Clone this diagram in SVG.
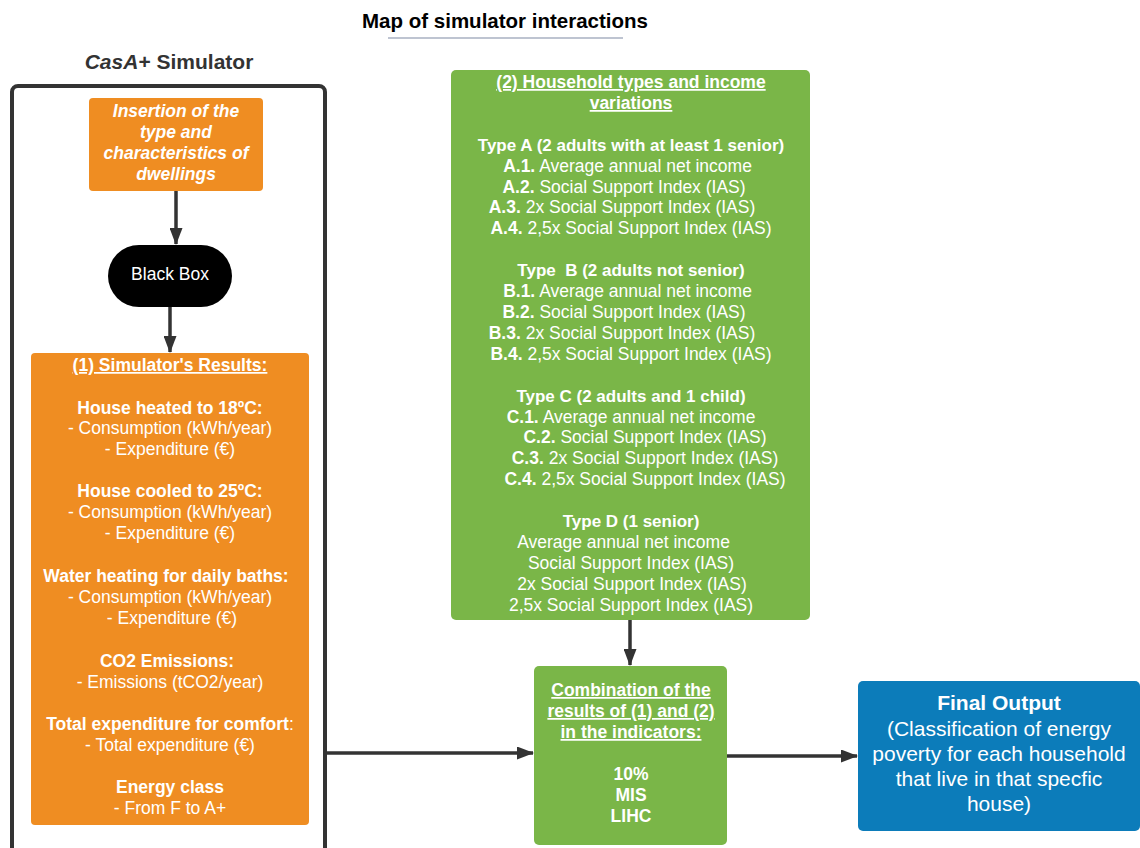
<svg xmlns="http://www.w3.org/2000/svg" width="1140" height="848" viewBox="0 0 1140 848">
<defs>
<marker id="ah" markerWidth="17" markerHeight="13" refX="16" refY="6.5" orient="auto" markerUnits="userSpaceOnUse" viewBox="0 0 17 13">
<path d="M0,0 L17,6.5 L0,13 Z" fill="#333"/>
</marker>
<style>
text{font-family:"Liberation Sans",Arial,sans-serif;fill:#fff;font-size:17.5px;text-anchor:middle}
.b{font-weight:bold}
.u{text-decoration:underline}
.big{font-size:21px}
.conn{stroke:#333;stroke-width:3.5;fill:none}
</style>
</defs>
<rect width="1140" height="848" fill="#fff"/>
<text x="505" y="28" class="b" style="fill:#000;font-size:20.5px">Map of simulator interactions</text>
<line x1="388" y1="38" x2="623" y2="38" stroke="#a9b0c2" stroke-width="1.5"/>
<text x="169" y="69" class="b" style="fill:#333;font-size:21px"><tspan font-style="italic">CasA</tspan>+ Simulator</text>

<g id="frame">
<rect x="12" y="86" width="313" height="800" rx="6" fill="none" stroke="#333" stroke-width="4"/>
</g>

<g id="connectors">
<line class="conn" x1="176" y1="191" x2="176" y2="244" marker-end="url(#ah)"/>
<line class="conn" x1="170" y1="307" x2="170" y2="352" marker-end="url(#ah)"/>
<line class="conn" x1="327" y1="753" x2="533" y2="753" marker-end="url(#ah)"/>
<line class="conn" x1="630" y1="620" x2="630" y2="665" marker-end="url(#ah)"/>
<line class="conn" x1="727" y1="756" x2="857" y2="756" marker-end="url(#ah)"/>
</g>

<g id="insertion">
<rect x="89" y="98" width="174" height="93" rx="4" fill="#EF8D22"/>
<text x="176" y="117" class="b" font-style="italic">Insertion of the</text>
<text x="176" y="138" class="b" font-style="italic">type and</text>
<text x="176" y="159" class="b" font-style="italic">characteristics of</text>
<text x="176" y="180" class="b" font-style="italic">dwellings</text>
</g>

<g id="blackbox">
<rect x="108" y="245" width="124" height="62" rx="31" fill="#000"/>
<text x="170" y="280">Black Box</text>
</g>

<g id="results">
<rect x="31" y="353" width="278" height="472" rx="4" fill="#EF8D22"/>
<text x="170" y="371" class="b u">(1) Simulator's Results:</text>
<text x="170" y="414" class="b">House heated to 18ºC:</text>
<text x="170" y="434">- Consumption (kWh/year)</text>
<text x="170" y="455">- Expenditure (€)</text>
<text x="170" y="497" class="b">House cooled to 25ºC:</text>
<text x="170" y="518">- Consumption (kWh/year)</text>
<text x="170" y="539">- Expenditure (€)</text>
<text x="166" y="582" class="b">Water heating for daily baths:</text>
<text x="170" y="603">- Consumption (kWh/year)</text>
<text x="172" y="624">- Expenditure (€)</text>
<text x="167" y="667" class="b">CO2 Emissions:</text>
<text x="170" y="688">- Emissions (tCO2/year)</text>
<text x="170" y="730"><tspan class="b">Total expenditure for comfort</tspan>:</text>
<text x="170" y="751">- Total expenditure (€)</text>
<text x="170" y="793" class="b">Energy class</text>
<text x="170" y="814">- From F to A+</text>
</g>

<g id="households">
<rect x="451" y="70" width="359" height="550" rx="5" fill="#7AB648"/>
<text x="631" y="88" class="b u">(2) Household types and income</text>
<text x="631" y="109" class="b u">variations</text>
<text x="631" y="151" class="b" style="font-size:17px">Type A (2 adults with at least 1 senior)</text>
<text x="627.5" y="172"><tspan class="b">A.1.</tspan> Average annual net income</text>
<text x="624" y="193"><tspan class="b">A.2.</tspan> Social Support Index (IAS)</text>
<text x="622" y="213"><tspan class="b">A.3.</tspan> 2x Social Support Index (IAS)</text>
<text x="631" y="234"><tspan class="b">A.4.</tspan> 2,5x Social Support Index (IAS)</text>
<text x="631" y="276" class="b" style="font-size:17px" xml:space="preserve">Type  B (2 adults not senior)</text>
<text x="627.5" y="297"><tspan class="b">B.1.</tspan> Average annual net income</text>
<text x="624" y="318"><tspan class="b">B.2.</tspan> Social Support Index (IAS)</text>
<text x="622" y="339"><tspan class="b">B.3.</tspan> 2x Social Support Index (IAS)</text>
<text x="631" y="360"><tspan class="b">B.4.</tspan> 2,5x Social Support Index (IAS)</text>
<text x="631" y="402" class="b" style="font-size:17px">Type C (2 adults and 1 child)</text>
<text x="631" y="423"><tspan class="b">C.1.</tspan> Average annual net income</text>
<text x="645" y="443"><tspan class="b">C.2.</tspan> Social Support Index (IAS)</text>
<text x="645" y="464"><tspan class="b">C.3.</tspan> 2x Social Support Index (IAS)</text>
<text x="645" y="485"><tspan class="b">C.4.</tspan> 2,5x Social Support Index (IAS)</text>
<text x="631" y="527" class="b" style="font-size:17px">Type D (1 senior)</text>
<text x="623.5" y="548">Average annual net income</text>
<text x="631" y="569">Social Support Index (IAS)</text>
<text x="632" y="590">2x Social Support Index (IAS)</text>
<text x="631" y="611">2,5x Social Support Index (IAS)</text>
</g>

<g id="combination">
<rect x="534" y="666" width="193" height="179" rx="5" fill="#7AB648"/>
<text x="631" y="696" class="b u">Combination of the</text>
<text x="631" y="717" class="b u">results of (1) and (2)</text>
<text x="631" y="738" class="b u">in the indicators:</text>
<text x="631" y="780" class="b">10%</text>
<text x="631" y="801" class="b">MIS</text>
<text x="631" y="822" class="b">LIHC</text>
</g>

<g id="final">
<rect x="858" y="681" width="282" height="150" rx="5" fill="#0C7CBA"/>
<text x="999" y="710" class="b big">Final Output</text>
<text x="999" y="736" class="big">(Classification of energy</text>
<text x="999" y="761" class="big">poverty for each household</text>
<text x="999" y="786" class="big">that live in that specfic</text>
<text x="999" y="811" class="big">house)</text>
</g>
</svg>
